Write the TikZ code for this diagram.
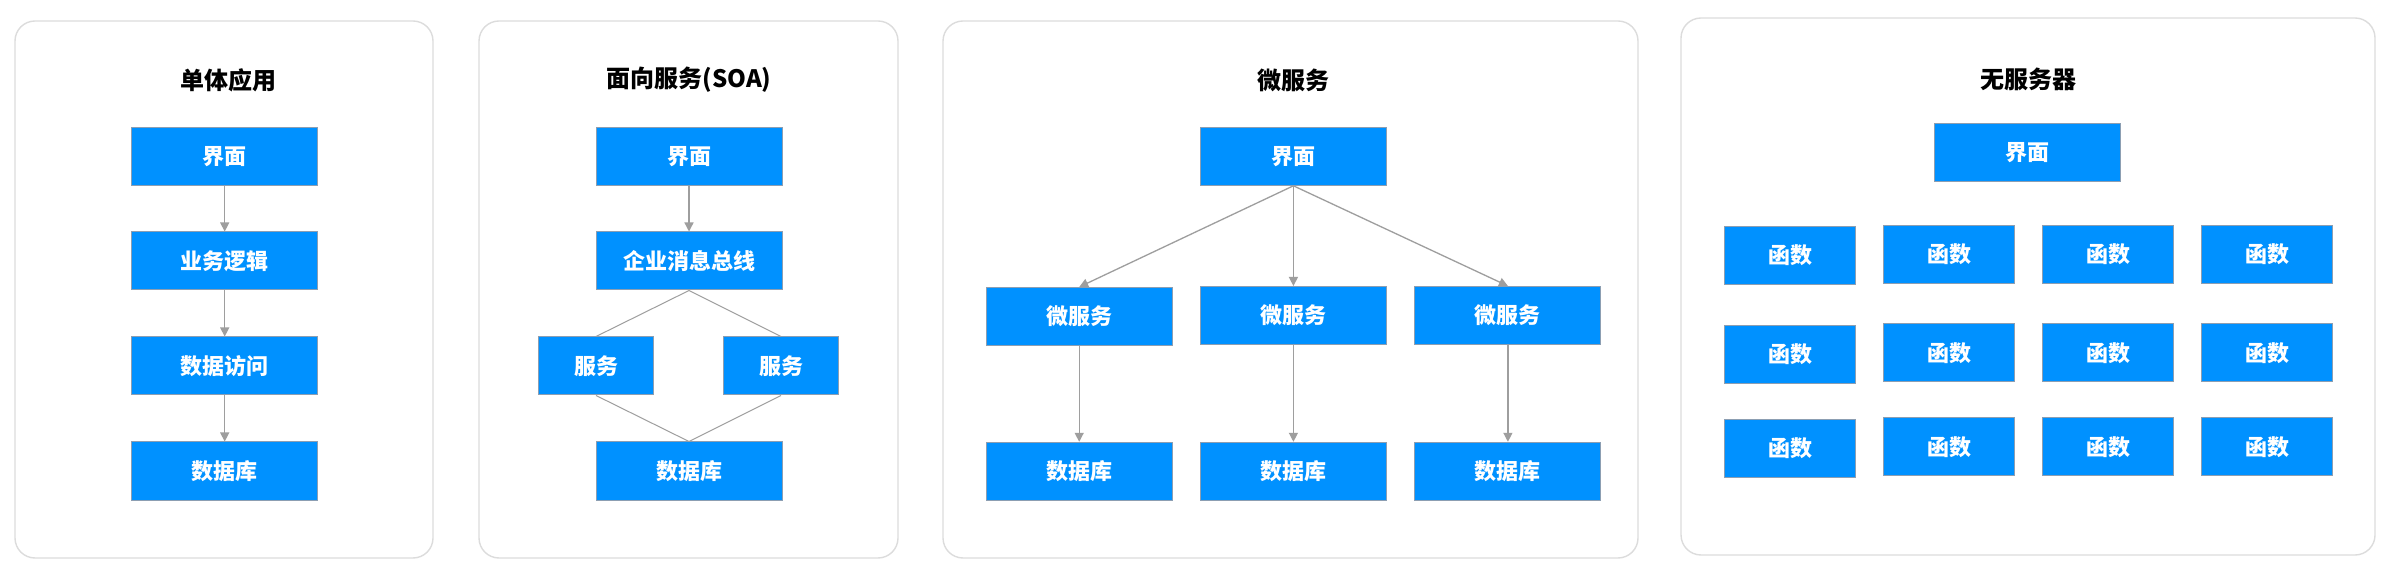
\documentclass[tikz,border=0pt]{standalone}
\usepackage{fontspec}
\setmainfont{Noto Sans CJK SC}
\usetikzlibrary{arrows.meta}
\definecolor{boxblue}{RGB}{0,145,255}
\definecolor{boxedge}{RGB}{140,158,178}
\definecolor{paneledge}{RGB}{220,220,220}
\definecolor{linkgray}{RGB}{158,158,158}
\tikzset{
  panel/.style={draw=paneledge, line width=0.7pt, rounded corners=10pt, fill=white},
  ptitle/.style={font=\fontsize{12}{14}\selectfont\bfseries, text=black, inner sep=0pt},
  bluebox/.style={fill=boxblue, draw=boxedge, line width=0.5pt, text=white,
    minimum width=93pt, minimum height=29pt, inner sep=0pt,
    font=\fontsize{11}{13}\selectfont\bfseries},
  smallbox/.style={bluebox, minimum width=57.5pt},
  funcbox/.style={bluebox, minimum width=65.5pt},
  arrowlink/.style={draw=linkgray, line width=0.65pt, -{Triangle[width=4.5pt,length=4.5pt]}},
  plainlink/.style={draw=linkgray, line width=0.5pt},
}
\begin{document}
\begin{tikzpicture}[x=0.5pt,y=-0.5pt]
\useasboundingbox (0,0) rectangle (2396,576);
% panels
\draw[panel] (15,21) rectangle (433,558);
\draw[panel] (479,21) rectangle (898,558);
\draw[panel] (943,21) rectangle (1638,558);
\draw[panel] (1681,18) rectangle (2375,555);
% titles
\node[ptitle] (t1) at (228,80) {单体应用};
\node[ptitle] (t2) at (689,80) {面向服务(SOA)};
\node[ptitle] (t3) at (1293,80) {微服务};
\node[ptitle] (t4) at (2028,79) {无服务器};
% panel 1
\node[bluebox] (a1) at (224.7,156.3) {界面};
\node[bluebox] (a2) at (224.7,261) {业务逻辑};
\node[bluebox] (a3) at (224.7,366) {数据访问};
\node[bluebox] (a4) at (224.7,471) {数据库};
\draw[arrowlink] (a1) -- (a2);
\draw[arrowlink] (a2) -- (a3);
\draw[arrowlink] (a3) -- (a4);
% panel 2
\node[bluebox] (b1) at (689,156.5) {界面};
\node[bluebox] (b2) at (689,261) {企业消息总线};
\node[smallbox] (b3) at (596,366) {服务};
\node[smallbox] (b4) at (781,366) {服务};
\node[bluebox] (b5) at (689,471) {数据库};
\draw[arrowlink] (b1) -- (b2);
\draw[plainlink] (b2.south) -- (b3.north);
\draw[plainlink] (b2.south) -- (b4.north);
\draw[plainlink] (b3.south) -- (b5.north);
\draw[plainlink] (b4.south) -- (b5.north);
% panel 3
\node[bluebox] (c0) at (1293.4,156.3) {界面};
\node[bluebox] (c1) at (1079.2,316.5) {微服务};
\node[bluebox] (c2) at (1293.4,315.5) {微服务};
\node[bluebox] (c3) at (1507.9,315.5) {微服务};
\node[bluebox] (d1) at (1079.2,471.3) {数据库};
\node[bluebox] (d2) at (1293.4,471.3) {数据库};
\node[bluebox] (d3) at (1507.9,471.3) {数据库};
\draw[arrowlink] (c0.south) -- (c1.north);
\draw[arrowlink] (c0.south) -- (c2.north);
\draw[arrowlink] (c0.south) -- (c3.north);
\draw[arrowlink] (c1) -- (d1);
\draw[arrowlink] (c2) -- (d2);
\draw[arrowlink] (c3) -- (d3);
% panel 4
\node[bluebox] (e0) at (2027.5,153) {界面};
\node[funcbox] (f11) at (1790,255.6) {函数};
\node[funcbox] (f12) at (1949,254.5) {函数};
\node[funcbox] (f13) at (2108,254.5) {函数};
\node[funcbox] (f14) at (2267,254.5) {函数};
\node[funcbox] (f21) at (1790,354.3) {函数};
\node[funcbox] (f22) at (1949,353) {函数};
\node[funcbox] (f23) at (2108,353) {函数};
\node[funcbox] (f24) at (2267,353) {函数};
\node[funcbox] (f31) at (1790,448.2) {函数};
\node[funcbox] (f32) at (1949,447) {函数};
\node[funcbox] (f33) at (2108,447) {函数};
\node[funcbox] (f34) at (2267,447) {函数};
\end{tikzpicture}
\end{document}
